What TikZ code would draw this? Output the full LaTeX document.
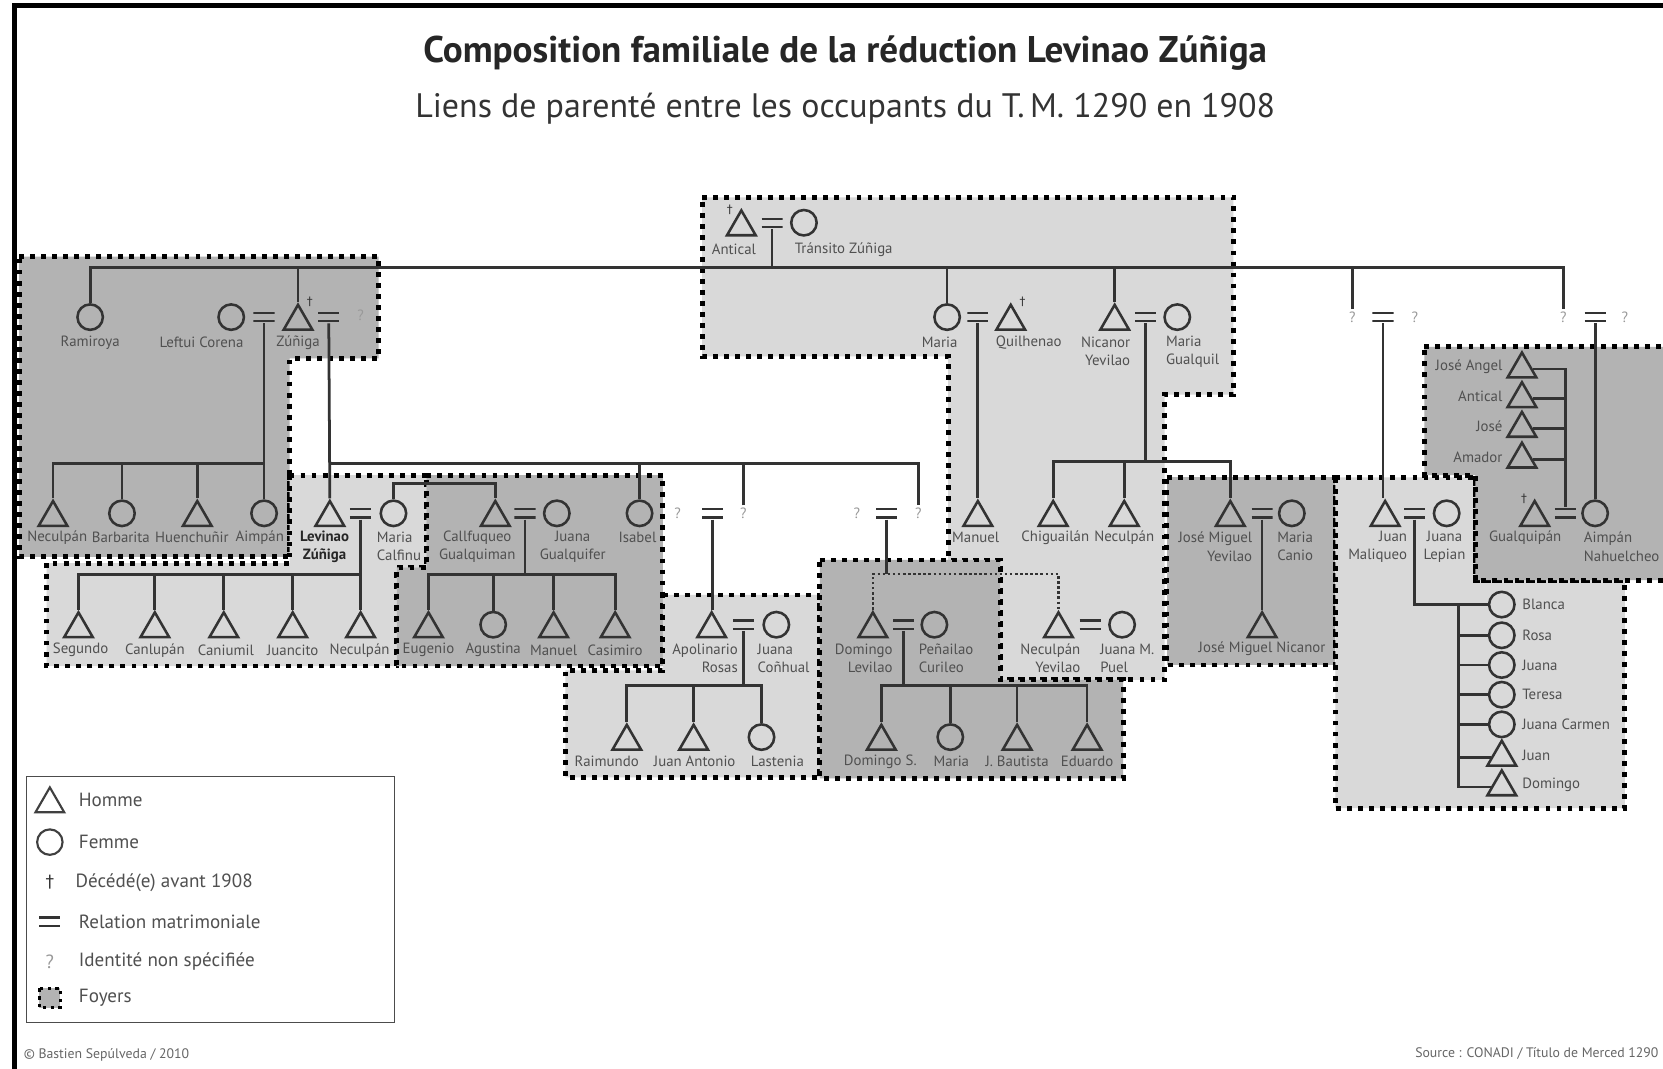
\documentclass[tikz,border=0pt]{standalone}
\usepackage{fontspec}
\setmainfont{PT Sans}
\newfontfamily\dgfam{DejaVu Sans}
\usetikzlibrary{shapes.geometric}
\definecolor{lc}{HTML}{333333}
\definecolor{labc}{HTML}{505050}
\definecolor{darkf}{HTML}{B3B3B3}
\definecolor{lightf}{HTML}{D9D9D9}
\newcommand\lbf{\fontsize{7}{8.5}\selectfont}
\newcommand\lgf{\fontsize{9}{10.5}\selectfont}
\begin{document}
\begin{tikzpicture}[x=0.5pt,y=-0.5pt,
  ln/.style={draw=lc, line width=1.3pt},
  dln/.style={draw=lc, line width=1pt, dash pattern=on 1.2pt off 1.2pt},
  man/.style={regular polygon, regular polygon sides=3, draw=lc, line width=1.2pt, minimum size=15.6pt, inner sep=0pt},
  woman/.style={circle, draw=lc, line width=1.2pt, minimum size=12pt, inner sep=0pt},
  eqs/.style={rectangle, minimum width=10pt, minimum height=5.5pt, inner sep=0pt,
    path picture={\draw[lc, line width=1pt] ([yshift=-0.8pt]path picture bounding box.north west) -- ([yshift=-0.8pt]path picture bounding box.north east) ([yshift=0.8pt]path picture bounding box.south west) -- ([yshift=0.8pt]path picture bounding box.south east);}},
  lab/.style={font=\lbf, text=labc, inner sep=0pt, align=center},
  labl/.style={lab, align=left, anchor=west},
  labr/.style={lab, align=right, anchor=east},
  qm/.style={font=\lbf, text=black!40, inner sep=1pt},
  dg/.style={font=\dgfam\fontsize{5.5}{6}\selectfont, text=lc, inner sep=0pt},
  foyerD/.style={fill=darkf, draw=black, line width=2.3pt, dash pattern=on 2.3pt off 2.9pt},
  foyerL/.style={fill=lightf, draw=black, line width=2.3pt, dash pattern=on 2.3pt off 2.9pt},
  lgt/.style={font=\lgf, text=labc, inner sep=0pt, anchor=west}
]
\fill[white] (0,0) rectangle (1568,1007);
\useasboundingbox (0,0) rectangle (1568,1007);
% frame
\draw[line width=2.4pt] (13.5,1012) -- (13.5,5) -- (1575,5);
% titles
\node[font=\bfseries\fontsize{17.5}{20}\selectfont, text=black!85] (title) at (797,50) {Composition familiale de la réduction Levinao Zúñiga};
\node[font=\fontsize{16}{19}\selectfont, text=black!80] (subtitle) at (797,102) {Liens de parenté entre les occupants du T.\,M. 1290 en 1908};

% foyers
\draw[foyerL] (662,186) -- (1163,186) -- (1163,372) -- (1098,372) -- (1098,641) -- (943,641) -- (943,528) -- (894,528) -- (894,336) -- (662,336) -- cycle;
\draw[foyerD] (18,242) -- (357,242) -- (357,338) -- (273,338) -- (273,525) -- (18,525) -- cycle;
\draw[foyerL] (273,448) -- (402,448) -- (402,535) -- (374,535) -- (374,628) -- (44,628) -- (44,531) -- (273,531) -- cycle;
\draw[foyerD] (402,448) -- (625,448) -- (625,628) -- (374,628) -- (374,535) -- (402,535) -- cycle;
\draw[foyerL] (625,561) -- (773,561) -- (773,733) -- (533,733) -- (533,632) -- (625,632) -- cycle;
\draw[foyerD] (773,528) -- (943,528) -- (943,641) -- (1059,641) -- (1059,734) -- (773,734) -- cycle;
\draw[foyerD] (1100,450) -- (1259,450) -- (1259,627) -- (1100,627) -- cycle;
\draw[foyerL] (1259,450) -- (1391,450) -- (1391,547) -- (1532,547) -- (1532,762) -- (1259,762) -- cycle;
\draw[foyerD] (1343,327) -- (1595,327) -- (1595,547) -- (1391,547) -- (1391,448) -- (1343,448) -- cycle;

\coordinate (ml) at (0,252);

% ---------- generation 0
\node[man] (antical) at (699,214) {};
\node[eqs] (eq0) at (728,210) {};
\node[woman] (transito) at (758,210) {};
\node[dg] (dgA) at (688,198) {†};
\node[lab] (lAntical) at (692,235) {Antical};
\node[labl] (lTransito) at (749,235) {Tránsito Zúñiga};

% ---------- generation 1
\node[woman] (ramiroya) at (85,299) {};
\node[lab] (lRamiroya) at (85,323) {Ramiroya};
\node[woman] (leftui) at (218,299) {};
\node[lab] (lLeftui) at (190,323) {Leftui Corena};
\node[eqs] (eqLZ) at (249,299) {};
\node[man] (zuniga) at (281,303) {};
\node[dg] (dgZ) at (292,285) {†};
\node[lab] (lZuniga) at (281,323) {Zúñiga};
\node[eqs] (eqZ2) at (310,299) {};
\node[qm] (q1) at (340,297) {?};

\node[woman] (maria1) at (893,299) {};
\node[lab] (lMaria1) at (886,323) {Maria};
\node[eqs] (eqMQ) at (922,299) {};
\node[man] (quilhenao) at (953,303) {};
\node[dg] (dgQ) at (964,285) {†};
\node[lab] (lQuilhenao) at (970,323) {Quilhenao};
\node[man] (nicanor) at (1051,303) {};
\node[labr] (lNicanor) at (1066,331.5) {Nicanor\\Yevilao};
\node[eqs] (eqNM) at (1080,299) {};
\node[woman] (mariaG) at (1110,299) {};
\node[labl] (lMariaG) at (1099,331.5) {Maria\\Gualquil};

\node[qm] (qa1) at (1275,299) {?};
\node[eqs] (eqQA) at (1304,299) {};
\node[qm] (qa2) at (1334,299) {?};
\node[qm] (qb1) at (1474,299) {?};
\node[eqs] (eqQB) at (1504,299) {};
\node[qm] (qb2) at (1532,299) {?};

% main line and drops
\draw[ln] (ramiroya.north) |- (qb1.north |- ml) -- (qb1.north);
\draw[ln] (zuniga.north) -- (zuniga.north |- ml);
\draw[ln] (eq0.south) -- (eq0.south |- ml);
\draw[ln] (maria1.north) -- (maria1.north |- ml);
\draw[ln] (nicanor.north) -- (nicanor.north |- ml);
\draw[ln] (qa1.north) -- (qa1.north |- ml);

% ---------- generation 2, left foyer
\node[man] (necul1) at (50,488) {};
\node[woman] (barbarita) at (115,484) {};
\node[man] (huenchu) at (186,488) {};
\node[woman] (aimpan1) at (249,484) {};
\node[lab] (lNecul1) at (54,507) {Neculpán};
\node[lab] (lBarbarita) at (114,507) {Barbarita};
\node[lab] (lHuenchu) at (181,507) {Huenchuñir};
\node[lab] (lAimpan1) at (245,507) {Aimpán};
\coordinate (barA) at (0,437);
\draw[ln] (eqLZ.south) -- (aimpan1.north);
\draw[ln] (necul1.north) |- (aimpan1.north |- barA);
\draw[ln] (barbarita.north) -- (barbarita.north |- barA);
\draw[ln] (huenchu.north) -- (huenchu.north |- barA);

% ---------- generation 2, middle
\node[man] (levinao) at (311,488) {};
\node[eqs] (eqLM) at (340,484) {};
\node[woman] (mariaC) at (371,484) {};
\node[lab, font=\bfseries\lbf, text=black!85] (lLevinao) at (306,515.5) {Levinao\\Zúñiga};
\node[labl] (lMariaC) at (355,515.5) {Maria\\Calfinu};
\node[man] (callfuqueo) at (467,488) {};
\node[eqs] (eqCJ) at (495,484) {};
\node[woman] (juanaG) at (525,484) {};
\node[lab] (lCallfuqueo) at (450,515.5) {Callfuqueo\\Gualquiman};
\node[lab] (lJuanaG) at (540,515.5) {Juana\\Gualquifer};
\node[woman] (isabel) at (603,484) {};
\node[lab] (lIsabel) at (601,507) {Isabel};
\node[qm] (qc1) at (639,484) {?};
\node[eqs] (eqQC) at (672,484) {};
\node[qm] (qc2) at (701,484) {?};
\node[qm] (qd1) at (808,484) {?};
\node[eqs] (eqQD) at (836,484) {};
\node[qm] (qd2) at (866,484) {?};

\coordinate (barZ) at (0,437);
\draw[ln] (eqZ2.south) -- (levinao.north);
\draw[ln] (eqZ2.south |- barZ) -| (qd2.north);
\draw[ln] (isabel.north) -- (isabel.north |- barZ);
\draw[ln] (qc2.north) -- (qc2.north |- barZ);
\coordinate (barMC) at (0,456);
\draw[ln] (mariaC.north) |- (callfuqueo.north |- barMC) -- (callfuqueo.north);

\node[man] (manuelQ) at (922,488) {};
\node[lab] (lManuelQ) at (920,507) {Manuel};
\draw[ln] (eqMQ.south) -- (manuelQ.north);
\node[man] (chigua) at (993,488) {};
\node[lab] (lChigua) at (995,507) {Chiguailán};
\node[man] (neculN) at (1060,488) {};
\node[lab] (lNeculN) at (1060,507) {Neculpán};
\node[man] (joseM) at (1160,488) {};
\node[labr] (lJoseM) at (1181,515.5) {José Miguel\\Yevilao};
\node[eqs] (eqJM) at (1190,484) {};
\node[woman] (mariaCanio) at (1218,484) {};
\node[labl] (lMariaCanio) at (1204,515.5) {Maria\\Canio};
\coordinate (barN) at (0,435);
\draw[ln] (eqNM.south) -- (eqNM.south |- barN);
\draw[ln] (chigua.north) |- (joseM.north |- barN) -- (joseM.north);
\draw[ln] (neculN.north) -- (neculN.north |- barN);

\node[man] (juanMal) at (1306,488) {};
\node[labr] (lJuanMal) at (1327,515.5) {Juan\\Maliqueo};
\node[eqs] (eqJL) at (1334,484) {};
\node[woman] (juanaL) at (1364,484) {};
\node[lab] (lJuanaL) at (1362,515.5) {Juana\\Lepian};
\draw[ln] (eqQA.south) -- (eqQA.south |- juanMal.north);

\node[man] (gualqui) at (1447,488) {};
\node[dg] (dgG) at (1437,470) {†};
\node[lab] (lGualqui) at (1438,507) {Gualquipán};
\node[eqs] (eqGA) at (1476,484) {};
\node[woman] (aimpanN) at (1504,484) {};
\node[labl] (lAimpanN) at (1493,515.5) {Aimpán\\Nahuelcheo};
\draw[ln] (eqQB.south) -- (aimpanN.north);

\node[man] (joseA) at (1435,348) {};
\node[man] (antical2) at (1435,376) {};
\node[man] (jose) at (1435,404) {};
\node[man] (amador) at (1435,433) {};
\node[lab, anchor=east] (lJoseA) at (1417,346) {José Angel};
\node[lab, anchor=east] (lAntical2) at (1417,374) {Antical};
\node[lab, anchor=east] (lJose) at (1417,402) {José};
\node[lab, anchor=east] (lAmador) at (1417,431) {Amador};
\draw[ln] (joseA.east) -- (joseA.east -| eqGA.north) -- (eqGA.north);
\draw[ln] (antical2.east) -- (antical2.east -| eqGA.north);
\draw[ln] (jose.east) -- (jose.east -| eqGA.north);
\draw[ln] (amador.east) -- (amador.east -| eqGA.north);

% ---------- generation 3
\node[man] (segundo) at (74,593) {};
\node[man] (canlupan) at (146,593) {};
\node[man] (caniumil) at (211,593) {};
\node[man] (juancito) at (276,593) {};
\node[man] (neculL) at (340,593) {};
\node[lab] (lSegundo) at (76,613) {Segundo};
\node[lab] (lCanlupan) at (146,613) {Canlupán};
\node[lab] (lCaniumil) at (213,613) {Caniumil};
\node[lab] (lJuancito) at (276,613) {Juancito};
\node[lab] (lNeculL) at (339,613) {Neculpán};
\coordinate (barL) at (0,542);
\draw[ln] (eqLM.south) -- (neculL.north);
\draw[ln] (segundo.north) |- (neculL.north |- barL);
\draw[ln] (canlupan.north) -- (canlupan.north |- barL);
\draw[ln] (caniumil.north) -- (caniumil.north |- barL);
\draw[ln] (juancito.north) -- (juancito.north |- barL);

\node[man] (eugenio) at (404,593) {};
\node[woman] (agustina) at (465,589) {};
\node[man] (manuel2) at (522,593) {};
\node[man] (casimiro) at (580,593) {};
\node[lab] (lEugenio) at (404,613) {Eugenio};
\node[lab] (lAgustina) at (465,613) {Agustina};
\node[lab] (lManuel2) at (522,613) {Manuel};
\node[lab] (lCasimiro) at (580,613) {Casimiro};
\coordinate (barC) at (0,542);
\draw[ln] (eqCJ.south) -- (eqCJ.south |- barC);
\draw[ln] (eugenio.north) |- (casimiro.north |- barC) -- (casimiro.north);
\draw[ln] (agustina.north) -- (agustina.north |- barC);
\draw[ln] (manuel2.north) -- (manuel2.north |- barC);

\node[man] (apolinario) at (671,593) {};
\node[eqs] (eqAJ) at (701,589) {};
\node[woman] (juanaC) at (732,589) {};
\node[labr] (lApolinario) at (696,620.5) {Apolinario\\Rosas};
\node[labl] (lJuanaC) at (714,620.5) {Juana\\Coñhual};
\draw[ln] (eqQC.south) -- (eqQC.south |- apolinario.north);

\node[man] (domingoL) at (823,593) {};
\node[eqs] (eqDP) at (852,589) {};
\node[woman] (penailao) at (881,589) {};
\node[labr] (lDomingoL) at (842,620.5) {Domingo\\Levilao};
\node[labl] (lPenailao) at (866,620.5) {Peñailao\\Curileo};
\node[man] (neculY) at (998,593) {};
\node[eqs] (eqNJ) at (1028,589) {};
\node[woman] (juanaM) at (1058,589) {};
\node[labr] (lNeculY) at (1019,620.5) {Neculpán\\Yevilao};
\node[labl] (lJuanaM) at (1037,620.5) {Juana M.\\Puel};
\coordinate (barD) at (0,541);
\draw[ln] (eqQD.south) -- (eqQD.south |- barD);
\draw[dln] (domingoL.north) |- (neculY.north |- barD) -- (neculY.north);

\node[man] (joseMN) at (1190,593) {};
\node[lab] (lJoseMN) at (1190,612) {José Miguel Nicanor};
\draw[ln] (eqJM.south) -- (joseMN.north);

\node[woman] (blanca) at (1416,570) {};
\node[woman] (rosa) at (1416,599) {};
\node[woman] (juana3) at (1416,627) {};
\node[woman] (teresa) at (1416,655) {};
\node[woman] (juanaCar) at (1416,683) {};
\node[man] (juan) at (1416,714) {};
\node[man] (domingo2) at (1416,742) {};
\node[lab, anchor=west] (lBlanca) at (1435,570) {Blanca};
\node[lab, anchor=west] (lRosa) at (1435,599) {Rosa};
\node[lab, anchor=west] (lJuana3) at (1435,627) {Juana};
\node[lab, anchor=west] (lTeresa) at (1435,655) {Teresa};
\node[lab, anchor=west] (lJuanaCar) at (1435,683) {Juana Carmen};
\node[lab, anchor=west] (lJuan) at (1435,712) {Juan};
\node[lab, anchor=west] (lDomingo2) at (1435,740) {Domingo};
\coordinate (jmV) at (1375,0);
\draw[ln] (eqJL.south) |- (blanca.west);
\draw[ln] (blanca.west -| jmV) |- (domingo2.west);
\draw[ln] (rosa.west) -- (rosa.west -| jmV);
\draw[ln] (juana3.west) -- (juana3.west -| jmV);
\draw[ln] (teresa.west) -- (teresa.west -| jmV);
\draw[ln] (juanaCar.west) -- (juanaCar.west -| jmV);
\draw[ln] (juan.west) -- (juan.west -| jmV);

% ---------- generation 4
\node[man] (raimundo) at (591,699) {};
\node[man] (juanAnt) at (654,699) {};
\node[woman] (lastenia) at (718,695) {};
\node[lab] (lRaimundo) at (572,718) {Raimundo};
\node[lab] (lJuanAnt) at (655,718) {Juan Antonio};
\node[lab] (lLastenia) at (733,718) {Lastenia};
\coordinate (barAp) at (0,646);
\draw[ln] (eqAJ.south) -- (eqAJ.south |- barAp);
\draw[ln] (raimundo.north) |- (lastenia.north |- barAp) -- (lastenia.north);
\draw[ln] (juanAnt.north) -- (juanAnt.north |- barAp);

\node[man] (domingoS) at (831,699) {};
\node[woman] (mariaD) at (896,695) {};
\node[man] (jbautista) at (959,699) {};
\node[man] (eduardo) at (1025,699) {};
\node[lab] (lDomingoS) at (830,718) {Domingo S.};
\node[lab] (lMariaD) at (897,718) {Maria};
\node[lab] (lJbautista) at (959,718) {J. Bautista};
\node[lab] (lEduardo) at (1025,718) {Eduardo};
\coordinate (barDo) at (0,646);
\draw[ln] (eqDP.south) -- (eqDP.south |- barDo);
\draw[ln] (domingoS.north) |- (eduardo.north |- barDo) -- (eduardo.north);
\draw[ln] (mariaD.north) -- (mariaD.north |- barDo);
\draw[ln] (jbautista.north) -- (jbautista.north |- barDo);

% ---------- legend
\draw[draw=black!70, line width=0.8pt] (25,732) rectangle (372,964);
\node[man, line width=1pt, draw=black!75] (kMan) at (47,758) {};
\node[lgt] (tMan) at (74,754) {Homme};
\node[woman, line width=1pt, draw=black!75] (kWoman) at (47,794) {};
\node[lgt] (tWoman) at (74,794) {Femme};
\node[dg, font=\dgfam\fontsize{8}{9}\selectfont] (kDg) at (47,832) {†};
\node[lgt] (tDg) at (71,832) {Décédé(e) avant 1908};
\node[eqs] (kEq) at (47,869) {};
\node[lgt] (tEq) at (74,869) {Relation matrimoniale};
\node[qm, font=\lgf] (kQ) at (47,907) {?};
\node[lgt] (tQ) at (74,907) {Identité non spécifiée};
\draw[fill=darkf, draw=black, line width=1.6pt, dash pattern=on 1.6pt off 2pt] (37,932) rectangle (57,950);
\node[lgt] (tFoyer) at (74,941) {Foyers};

% ---------- footers
\node[font=\fontsize{6.5}{7}\selectfont, text=black!60, anchor=west, inner sep=0pt] (copy) at (22,995) {© Bastien Sepúlveda / 2010};
\node[font=\fontsize{6.5}{7}\selectfont, text=black!60, anchor=west, inner sep=0pt] (source) at (1334,993) {Source : CONADI / Título de Merced 1290};
\end{tikzpicture}
\end{document}
